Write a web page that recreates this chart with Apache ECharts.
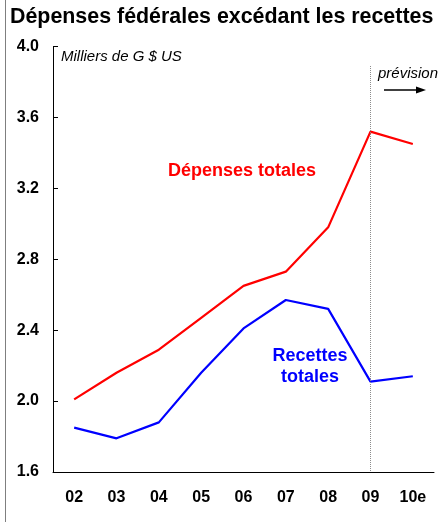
<!DOCTYPE html>
<html>
<head>
<meta charset="utf-8">
<script src="https://cdn.jsdelivr.net/npm/echarts@6/dist/echarts.min.js"></script>
<style>
  html, body { margin: 0; padding: 0; background: #fff; }
  #chart { width: 441px; height: 522px; }
</style>
</head>
<body>
<div id="chart"></div>
<script>
// Years on the category axis (10e = estimate)
const years = ['02', '03', '04', '05', '06', '07', '08', '09', '10e'];
// Federal outlays and receipts, thousands of billions of US dollars
const depenses = [2.01, 2.16, 2.29, 2.47, 2.65, 2.73, 2.98, 3.52, 3.45];
const recettes = [1.85, 1.79, 1.88, 2.16, 2.41, 2.57, 2.52, 2.11, 2.14];
// Value axis range and step
const yMin = 1.6, yMax = 4.0, yStep = 0.4;
// Forecast boundary year and the top of its marker line
const forecastYear = '09';
const forecastTop = 3.89;

const FONT = '"Liberation Sans", Arial, Helvetica, sans-serif';

const chart = echarts.init(document.getElementById('chart'), null, { renderer: 'canvas' });

chart.setOption({
  animation: false,
  backgroundColor: '#ffffff',
  grid: { left: 53, right: 7, top: 46.5, bottom: 50, containLabel: false },
  xAxis: {
    type: 'category',
    data: years,
    boundaryGap: true,
    axisLine: { lineStyle: { color: '#000', width: 1 } },
    axisTick: { inside: true, length: 5, lineStyle: { color: '#000' } },
    axisLabel: {
      margin: 18,
      color: '#000',
      fontFamily: FONT,
      fontWeight: 'bold',
      fontSize: 16
    },
    splitLine: { show: false }
  },
  yAxis: {
    type: 'value',
    min: yMin,
    max: yMax,
    interval: yStep,
    axisLine: { show: true, lineStyle: { color: '#000', width: 1 } },
    axisTick: { show: true, inside: true, length: 5, lineStyle: { color: '#000' } },
    axisLabel: {
      margin: 14,
      color: '#000',
      fontFamily: FONT,
      fontWeight: 'bold',
      fontSize: 16,
      formatter: v => v.toFixed(1)
    },
    splitLine: { show: false }
  },
  series: [
    {
      name: 'Dépenses totales',
      type: 'line',
      data: depenses,
      symbol: 'none',
      lineStyle: { color: '#ff0000', width: 2.2 },
      itemStyle: { color: '#ff0000' },
      markLine: {
        silent: true,
        symbol: 'none',
        label: { show: false },
        lineStyle: { color: '#8c8c8c', width: 1, type: [1, 1] },
        data: [[
          { coord: [forecastYear, forecastTop] },
          { coord: [forecastYear, yMin] }
        ]]
      }
    },
    {
      name: 'Recettes totales',
      type: 'line',
      data: recettes,
      symbol: 'none',
      lineStyle: { color: '#0000ff', width: 2.2 },
      itemStyle: { color: '#0000ff' }
    }
  ],
  graphic: [
    // frame edge on the left
    {
      type: 'line',
      shape: { x1: 5.5, y1: 0, x2: 5.5, y2: 522 },
      style: { stroke: '#7f7f7f', lineWidth: 1 }
    },
    {
      type: 'text',
      left: 10, top: 7,
      style: {
        text: 'Dépenses fédérales excédant les recettes',
        fill: '#000',
        font: 'bold 21.4px ' + FONT
      }
    },
    {
      type: 'text',
      x: 61, y: 57,
      style: {
        text: 'Milliers de G $ US',
        fill: '#000',
        font: 'italic 15px ' + FONT,
        textVerticalAlign: 'middle'
      }
    },
    {
      type: 'text',
      x: 378, y: 74,
      style: {
        text: 'prévision',
        fill: '#000',
        font: 'italic 15px ' + FONT,
        textVerticalAlign: 'middle'
      }
    },
    // forecast arrow
    {
      type: 'line',
      shape: { x1: 384, y1: 90, x2: 418, y2: 90 },
      style: { stroke: '#000', lineWidth: 1.3 }
    },
    {
      type: 'polygon',
      shape: { points: [[426, 90], [416, 86.5], [416, 93.5]] },
      style: { fill: '#000' }
    },
    {
      type: 'text',
      x: 242, y: 171,
      style: {
        text: 'Dépenses totales',
        fill: '#ff0000',
        font: 'bold 18px ' + FONT,
        textAlign: 'center',
        textVerticalAlign: 'middle'
      }
    },
    {
      type: 'text',
      x: 310, y: 366.5,
      style: {
        text: 'Recettes\ntotales',
        fill: '#0000ff',
        font: 'bold 18px ' + FONT,
        lineHeight: 21,
        textAlign: 'center',
        textVerticalAlign: 'middle'
      }
    }
  ]
});
</script>
</body>
</html>
